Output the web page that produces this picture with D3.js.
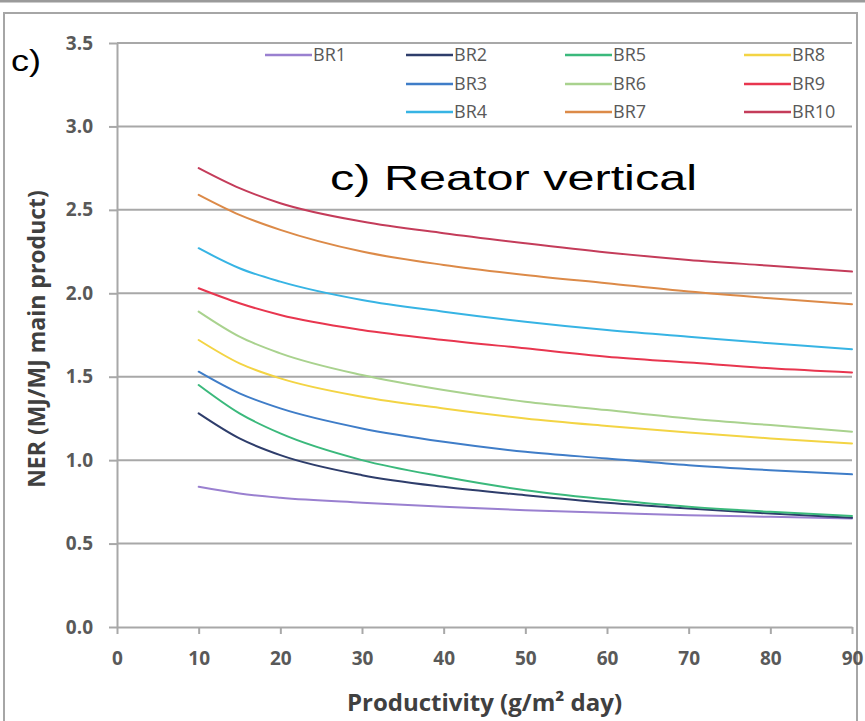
<!DOCTYPE html>
<html>
<head>
<meta charset="utf-8">
<script src="https://cdn.jsdelivr.net/npm/d3@7"></script>
<style>
  html, body { margin: 0; padding: 0; background: #fff; }
  svg { display: block; }
</style>
</head>
<body>
<svg id="chart" width="865" height="721"></svg>
<script>
// Productivity values (g/m² day) at which every scenario is sampled
const productivity = [10, 15, 20, 30, 40, 50, 60, 70, 80, 90];

// NER (MJ/MJ main product) for each scenario
const BR1  = [0.84, 0.80, 0.775, 0.745, 0.72, 0.70, 0.685, 0.67, 0.66, 0.65];
const BR2  = [1.28, 1.13, 1.03, 0.91, 0.84, 0.79, 0.745, 0.71, 0.68, 0.655];
const BR3  = [1.53, 1.40, 1.31, 1.19, 1.11, 1.05, 1.01, 0.97, 0.94, 0.915];
const BR4  = [2.27, 2.15, 2.07, 1.96, 1.89, 1.83, 1.78, 1.74, 1.70, 1.665];
const BR5  = [1.45, 1.28, 1.16, 1.00, 0.90, 0.82, 0.765, 0.72, 0.69, 0.665];
const BR6  = [1.89, 1.74, 1.64, 1.51, 1.42, 1.35, 1.30, 1.25, 1.21, 1.17];
const BR7  = [2.59, 2.47, 2.38, 2.25, 2.17, 2.11, 2.06, 2.01, 1.97, 1.935];
const BR8  = [1.72, 1.58, 1.49, 1.38, 1.31, 1.25, 1.205, 1.165, 1.13, 1.10];
const BR9  = [2.03, 1.94, 1.87, 1.78, 1.72, 1.67, 1.62, 1.585, 1.55, 1.525];
const BR10 = [2.75, 2.63, 2.54, 2.43, 2.36, 2.30, 2.245, 2.20, 2.165, 2.13];

const seriesNames = ["BR1", "BR2", "BR3", "BR4", "BR5", "BR6", "BR7", "BR8", "BR9", "BR10"];
const seriesValues = [BR1, BR2, BR3, BR4, BR5, BR6, BR7, BR8, BR9, BR10];
const seriesColors = ["#9a80d0", "#2e3d6b", "#3f7dc8", "#37b4e4", "#3bb97c",
                      "#a9d28e", "#dc8a48", "#f3d444", "#e8364f", "#c43c5a"];

// Legend order: column by column, as laid out in the chart
const legendColumns = [["BR1"], ["BR2", "BR3", "BR4"], ["BR5", "BR6", "BR7"], ["BR8", "BR9", "BR10"]];

const yTicks = [0, 0.5, 1.0, 1.5, 2.0, 2.5, 3.0, 3.5];
const xTicks = [0, 10, 20, 30, 40, 50, 60, 70, 80, 90];

const svg = d3.select("#chart");
const W = 865, H = 721;
const plot = { left: 117, right: 852, top: 43, bottom: 627 };

const x = d3.scaleLinear().domain([0, 90]).range([plot.left, plot.right]);
const y = d3.scaleLinear().domain([0, 3.5]).range([plot.bottom, plot.top]);

const gridColor = "#a8a8a8";
const labelColor = "#595959";

// Outer frame
svg.append("rect").attr("x", 0).attr("y", 0).attr("width", W).attr("height", H).attr("fill", "#fff");
svg.append("line").attr("x1", 0).attr("x2", W).attr("y1", 1).attr("y2", 1)
  .attr("stroke", "#9a9a9a").attr("stroke-width", 3);
svg.append("rect").attr("x", 4).attr("y", 13).attr("width", 853).attr("height", 740)
  .attr("fill", "none").attr("stroke", "#a6a6a6").attr("stroke-width", 2);

// Horizontal gridlines
svg.append("g").selectAll("line").data(yTicks.filter(d => d > 0)).join("line")
  .attr("x1", plot.left).attr("x2", plot.right)
  .attr("y1", d => y(d)).attr("y2", d => y(d))
  .attr("stroke", gridColor).attr("stroke-width", 2);

// Y axis
const yAxis = svg.append("g").attr("transform", `translate(${plot.left},0)`)
  .call(d3.axisLeft(y).tickValues(yTicks).tickFormat(d3.format(".1f")).tickSize(8).tickSizeOuter(0).tickPadding(16));
yAxis.select(".domain").attr("stroke", gridColor).attr("stroke-width", 2);
yAxis.selectAll(".tick line").attr("stroke", gridColor).attr("stroke-width", 2);
yAxis.selectAll(".tick text").attr("fill", labelColor)
  .style("font-family", "'Open Sans', sans-serif").style("font-weight", "bold").style("font-size", "19px");

// X axis
const xAxis = svg.append("g").attr("transform", `translate(0,${plot.bottom})`)
  .call(d3.axisBottom(x).tickValues(xTicks).tickFormat(d3.format("d")).tickSize(7).tickSizeOuter(0).tickPadding(18));
xAxis.select(".domain").attr("stroke", gridColor).attr("stroke-width", 2);
xAxis.selectAll(".tick line").attr("stroke", gridColor).attr("stroke-width", 2);
xAxis.selectAll(".tick text").attr("fill", labelColor)
  .style("font-family", "'Open Sans', sans-serif").style("font-weight", "bold").style("font-size", "19px");

// Curves
const line = d3.line()
  .x((d, i) => x(productivity[i]))
  .y(d => y(d))
  .curve(d3.curveMonotoneX);

svg.append("g").selectAll("path").data(seriesValues).join("path")
  .attr("d", d => line(d))
  .attr("fill", "none")
  .attr("stroke", (d, i) => seriesColors[i])
  .attr("stroke-width", 2)
  .attr("stroke-linecap", "round");

// Legend
const colX = [265, 406, 565, 744];
const rowY = [55, 84, 112];
const legend = svg.append("g");
legendColumns.forEach((col, ci) => {
  col.forEach((name, ri) => {
    const idx = seriesNames.indexOf(name);
    const g = legend.append("g").attr("transform", `translate(${colX[ci]},${rowY[ri]})`);
    g.append("line").attr("x1", 0).attr("x2", 47).attr("y1", 0).attr("y2", 0)
      .attr("stroke", seriesColors[idx]).attr("stroke-width", 2.5);
    g.append("text").attr("x", 48).attr("y", 0).attr("dy", "0.36em")
      .attr("fill", labelColor)
      .style("font-family", "'Open Sans', sans-serif").style("font-size", "18px")
      .text(name);
  });
});

// Axis titles
svg.append("text")
  .attr("transform", `translate(45,${(plot.top + plot.bottom) / 2 + 4}) rotate(-90)`)
  .attr("text-anchor", "middle")
  .attr("fill", "#404040")
  .style("font-family", "'Open Sans', sans-serif").style("font-weight", "bold").style("font-size", "23px")
  .text("NER (MJ/MJ main product)");

svg.append("text")
  .attr("x", (plot.left + plot.right) / 2).attr("y", 711)
  .attr("text-anchor", "middle")
  .attr("fill", "#404040")
  .style("font-family", "'Open Sans', sans-serif").style("font-weight", "bold").style("font-size", "24px")
  .text("Productivity (g/m² day)");

// Panel labels
svg.append("text")
  .attr("x", 330).attr("y", 190)
  .attr("textLength", 367).attr("lengthAdjust", "spacingAndGlyphs")
  .attr("fill", "#000")
  .style("font-family", "'Liberation Sans', Arial, sans-serif").style("font-size", "35px")
  .text("c) Reator vertical");

svg.append("text")
  .attr("x", 11).attr("y", 71)
  .attr("textLength", 30).attr("lengthAdjust", "spacingAndGlyphs")
  .attr("fill", "#000")
  .style("font-family", "'Liberation Sans', Arial, sans-serif").style("font-size", "30px")
  .text("c)");
</script>
</body>
</html>
